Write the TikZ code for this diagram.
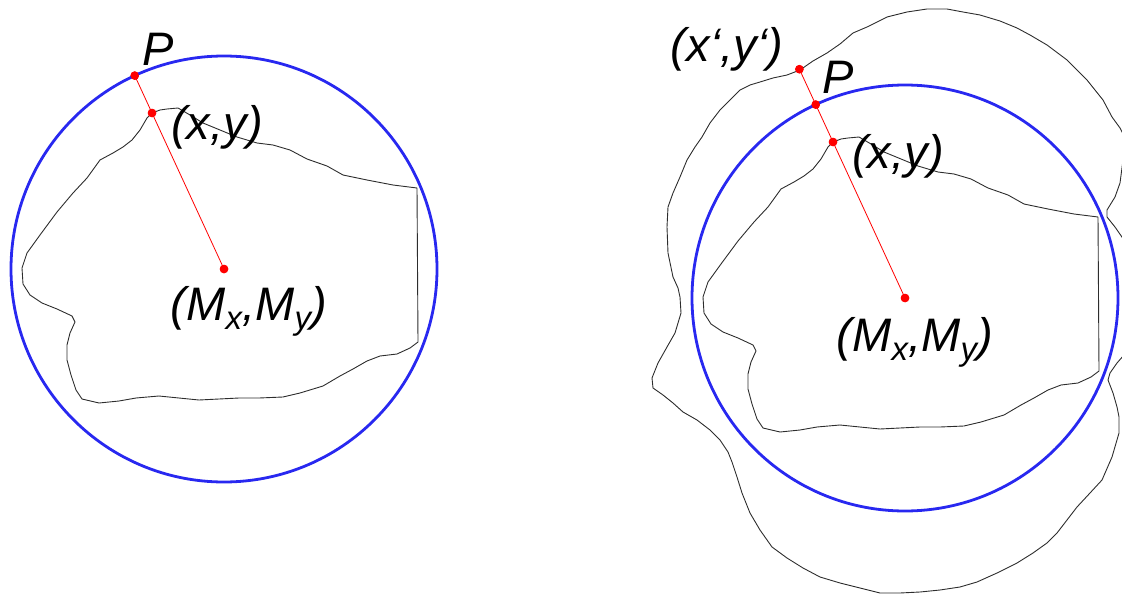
\documentclass[tikz,border=0pt]{standalone}
\usepackage{fontspec}
\setmainfont{Liberation Sans}
\usetikzlibrary{calc}
\definecolor{rimblue}{RGB}{40,40,240}
\definecolor{outlinegray}{RGB}{45,45,45}

\begin{document}
\begin{tikzpicture}[
    x=1pt, y=-1pt,
    outline/.style={draw=outlinegray, line width=0.9pt, line join=round},
    rim/.style={draw=rimblue, line width=2.8pt},
    ray/.style={draw=red, line width=0.8pt},
    dot/.style={circle, fill=red, inner sep=0pt, minimum size=8.5pt},
    lbl/.style={inner sep=0pt, font=\fontsize{47}{50}\selectfont\itshape}
  ]
    \useasboundingbox (0,0) rectangle (1122,594);

    % the stone, once per panel
    \foreach \dx/\dy in {0/0,681/29}
      \draw[outline, shift={(\dx,\dy)}] (152,113) -- (160,110) -- (167,109) -- (178,108) -- (190,115)
        -- (203,123) -- (220,130) -- (237,137) -- (257,143) -- (273,145) -- (290,150) -- (307,159)
        -- (327,166) -- (343,175) -- (367,180) -- (393,185) -- (417,188) -- (418,342) -- (410,348)
        -- (397,354) -- (380,356) -- (367,361) -- (353,369) -- (340,376) -- (323,386) -- (300,393)
        -- (283,397) -- (259,398) -- (239,398) -- (219,399) -- (199,400) -- (179,398) -- (159,396)
        -- (136,398) -- (119,401) -- (99,403) -- (82,399) -- (76,390) -- (71,375) -- (67,360)
        -- (67,345) -- (70,333) -- (75,322) -- (72,316) -- (57,309) -- (42,303) -- (30,295)
        -- (23,284) -- (22,268) -- (27,253) -- (40,235) -- (57,212) -- (73,193) -- (87,178)
        -- (100,160) -- (113,153) -- (123,147) -- (132,140) -- (140,130) -- (147,118) -- cycle;

    % mirrored outline, right panel only
    \begin{scope}
      \clip (0,0) rectangle (1122,594);
      \draw[outline] (800,70) -- (813,61) -- (827,53) -- (840,44) -- (853,33) -- (867,27) -- (887,17)
        -- (907,12) -- (927,9) -- (947,9) -- (963,12) -- (980,15) -- (1000,21) -- (1017,28)
        -- (1030,35) -- (1047,45) -- (1067,60) -- (1087,80) -- (1103,100) -- (1112,117) -- (1120,128)
        -- (1124,136) -- (1123,160) -- (1120,183) -- (1115,197) -- (1107,210) -- (1107,217)
        -- (1115,227) -- (1124,240) -- (1132,270) -- (1135,300) -- (1132,330) -- (1124,355)
        -- (1117,363) -- (1110,373) -- (1108,380) -- (1113,393) -- (1117,407) -- (1119,417)
        -- (1119,433) -- (1112,457) -- (1102,480) -- (1090,493) -- (1077,507) -- (1067,520)
        -- (1057,533) -- (1047,543) -- (1033,553) -- (1017,563) -- (997,573) -- (977,582)
        -- (960,587) -- (940,590) -- (920,592) -- (900,593) -- (880,593) -- (860,588) -- (840,583)
        -- (820,577) -- (803,568) -- (787,558) -- (772,547) -- (760,530) -- (750,513) -- (742,493)
        -- (737,477) -- (732,462) -- (728,452) -- (720,440) -- (710,430) -- (697,420) -- (683,412)
        -- (673,403) -- (663,395) -- (653,388) -- (652,378) -- (658,363) -- (667,347) -- (675,333)
        -- (681,313) -- (680,297) -- (678,288) -- (673,277) -- (668,253) -- (667,227) -- (668,207)
        -- (673,193) -- (680,177) -- (687,160) -- (695,147) -- (702,137) -- (710,123) -- (720,110)
        -- (730,100) -- (740,90) -- (750,85) -- (760,82) -- (773,78) -- (787,75) -- cycle;
    \end{scope}

    % left panel
    \node[dot] (M1) at (224,269) {};
    \node[dot] (XY1) at (152,113) {};
    \node[dot] (P1) at ($(M1)!213pt!(XY1)$) {};
    \draw[rim] (M1.center) circle (213pt);
    \draw[ray] (P1.center) -- (M1.center);
    \node[dot] at (M1) {};
    \node[dot] at (XY1) {};
    \node[dot] at (P1) {};

    % right panel
    \node[dot] (M2) at (905,298) {};
    \node[dot] (XY2) at (833,142) {};
    \node[dot] (P2) at ($(M2)!213pt!(XY2)$) {};
    \node[dot] (Q2) at ($(M2)!252pt!(XY2)$) {};
    \draw[rim] (M2.center) circle (213pt);
    \draw[ray] (Q2.center) -- (M2.center);
    \node[dot] at (M2) {};
    \node[dot] at (XY2) {};
    \node[dot] at (P2) {};
    \node[dot] at (Q2) {};

    \node[lbl] (lblP1) at (158,49) {P};
    \node[lbl] (lblXY1) at (217,127) {(x,y)};
    \node[lbl] (lblM1) at (249,311) {(M\textsubscript{x},M\textsubscript{y})};
    \node[lbl] (lblQ2) at (727,49) {(x‘,y‘)};
    \node[lbl] (lblP2) at (838,77) {P};
    \node[lbl] (lblXY2) at (898,156) {(x,y)};
    \node[lbl] (lblM2) at (915,342) {(M\textsubscript{x},M\textsubscript{y})};
  \end{tikzpicture}
\end{document}
